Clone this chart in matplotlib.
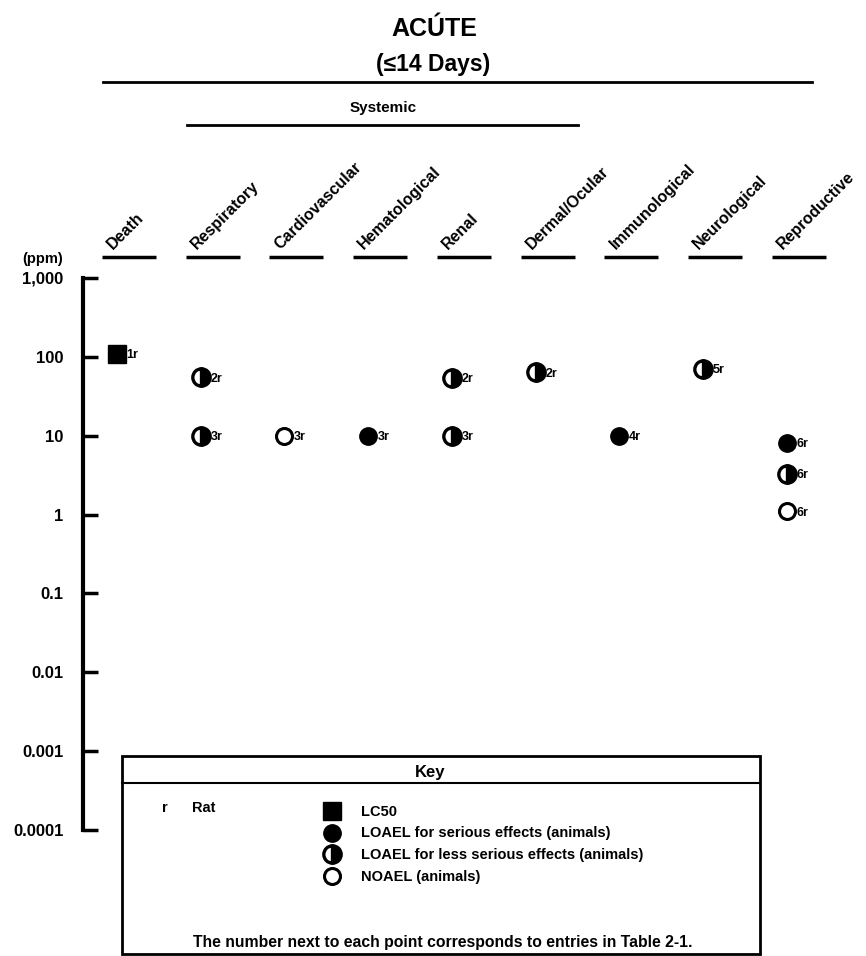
import numpy as np
import matplotlib.pyplot as plt
import matplotlib.transforms as mtransforms
from matplotlib.patches import Rectangle
from matplotlib.lines import Line2D

plt.rcParams['font.family'] = ['Liberation Sans', 'DejaVu Sans']

# endpoint columns
categories = ['Death', 'Respiratory', 'Cardiovascular', 'Hematological', 'Renal',
              'Dermal/Ocular', 'Immunological', 'Neurological', 'Reproductive']

# points
pt_cat = [0, 1, 1, 2, 3, 4, 4, 5, 6, 7, 8, 8, 8]
pt_ppm = [110, 55, 10, 10, 10, 54, 10, 64, 10, 70, 8.1, 3.3, 1.1]
pt_kind = ['lc50', 'less', 'less', 'noael', 'serious', 'less', 'less', 'less',
           'serious', 'less', 'serious', 'less', 'noael']
pt_ref = ['1r', '2r', '3r', '3r', '3r', '2r', '3r', '2r', '4r', '5r', '6r', '6r', '6r']

yticks = [1e-4, 1e-3, 1e-2, 1e-1, 1, 10, 100, 1000]
ytick_labels = ['0.0001', '0.001', '0.01', '0.1', '1', '10', '100', '1,000']

key_labels = ['LC50', 'LOAEL for serious effects (animals)',
              'LOAEL for less serious effects (animals)', 'NOAEL (animals)']

styles = {
    'lc50': dict(marker='s', markersize=13, markerfacecolor='black', markeredgecolor='black'),
    'serious': dict(marker='o', markersize=12.5, markerfacecolor='black', markeredgecolor='black'),
    'less': dict(marker='o', markersize=12.5, fillstyle='right', markerfacecolor='black',
                 markerfacecoloralt='white', markeredgecolor='black', markeredgewidth=2.4),
    'noael': dict(marker='o', markersize=11.5, markerfacecolor='white', markeredgecolor='black',
                  markeredgewidth=2.2),
}

W, H = 866, 956
fig = plt.figure(figsize=(W / 100, H / 100), dpi=100)

# data axes: left spine at x=83px, 1000 ppm at y=278px, 0.0001 at y=830px
ax = fig.add_axes([83 / W, 1 - 830 / H, 757 / W, (830 - 278) / H])
ax.patch.set_visible(False)
ax.set_yscale('log')
ax.set_ylim(1e-4, 1e3)
ax.set_xlim(-0.406, 8.633)
for s in ['top', 'right', 'bottom']:
    ax.spines[s].set_visible(False)
ax.spines['left'].set_linewidth(3)
ax.set_xticks([])
ax.set_yticks(yticks)
ax.set_yticklabels(ytick_labels, fontsize=12, fontweight='bold')
ax.yaxis.set_minor_locator(plt.NullLocator())
ax.tick_params(axis='y', direction='in', length=11, width=2.5, pad=14)

for c, v, k, r in zip(pt_cat, pt_ppm, pt_kind, pt_ref):
    ax.plot([c], [v], linestyle='none', clip_on=False, **styles[k])
    ax.annotate(r, (c, v), xytext=(7, -1), textcoords='offset points',
                ha='left', va='center', fontsize=9, fontweight='bold')

# overlay in pixel coordinates for headers and key
ov = fig.add_axes([0, 0, 1, 1], zorder=-1)
ov.set_xlim(0, W)
ov.set_ylim(H, 0)
ov.axis('off')

hdr = mtransforms.blended_transform_factory(ax.transData, ov.transData)
dx = 1 / 83.75  # data units per pixel
for i, name in enumerate(categories):
    ov.plot([i + 12 * dx - 27 * dx, i + 12 * dx + 27 * dx], [257, 257], color='black',
            lw=2.5, transform=hdr, solid_capstyle='butt')
    ov.text(i - 4 * dx, 250, name, rotation=45, rotation_mode='anchor', ha='left',
            va='baseline', fontsize=11.5, fontweight='bold', transform=hdr)

ov.text(434, 29, 'ACÚTE', ha='center', va='center', fontsize=18, fontweight='bold')
ov.text(433, 64, '(≤14 Days)', ha='center', va='center', fontsize=16.5, fontweight='bold')
ov.plot([103, 812], [82, 82], color='black', lw=2)
ov.text(383, 108, 'Systemic', ha='center', va='center', fontsize=11, fontweight='bold')
ov.plot([187, 578], [125, 125], color='black', lw=2)
ov.text(63, 259, '(ppm)', ha='right', va='center', fontsize=10.5, fontweight='bold')

# key box
ov.add_patch(Rectangle((122, 756), 638, 198, fill=False, edgecolor='black', lw=2, clip_on=False))
ov.plot([122, 760], [783, 783], color='black', lw=1.5)
ov.text(430, 772, 'Key', ha='center', va='center', fontsize=12, fontweight='bold')
ov.text(162, 808, 'r', ha='left', va='center', fontsize=10.5, fontweight='bold')
ov.text(192, 808, 'Rat', ha='left', va='center', fontsize=10.5, fontweight='bold')
for j, (k, lab) in enumerate(zip(['lc50', 'serious', 'less', 'noael'], key_labels)):
    yy = 811 + 21.5 * j
    ov.add_line(Line2D([332], [yy], linestyle='none', **styles[k]))
    ov.text(361, yy + 1, lab, ha='left', va='center', fontsize=10.5, fontweight='bold')
ov.text(193, 942, 'The number next to each point corresponds to entries in Table 2-1.',
        ha='left', va='center', fontsize=11.3, fontweight='bold')

fig.savefig('out.png', dpi=100, facecolor='white')
